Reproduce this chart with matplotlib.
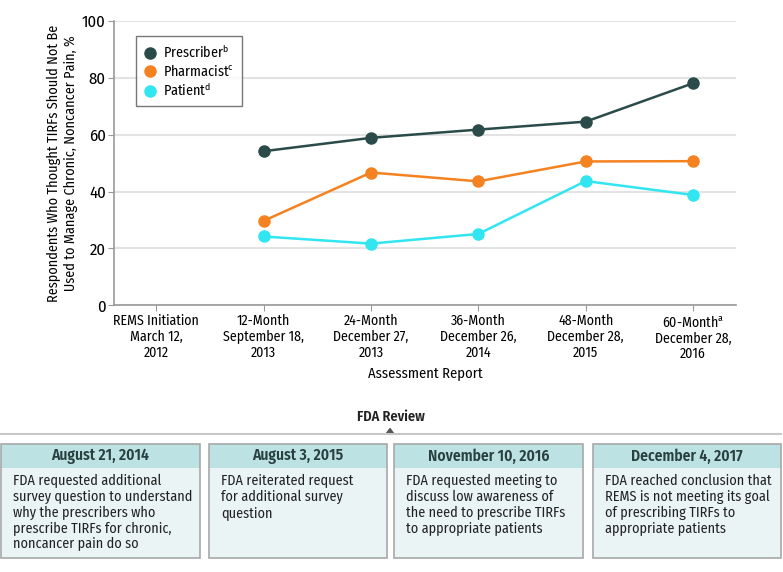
import matplotlib
matplotlib.use("Agg")
import matplotlib.pyplot as plt
from matplotlib.patches import Rectangle, Polygon
from matplotlib import font_manager

names = {f.name for f in font_manager.fontManager.ttflist}
FONT = "Liberation Sans"
for cand in ["Fira Sans Condensed", "PT Sans Narrow", "Asap Condensed", "Archivo Narrow",
             "Roboto Condensed", "Liberation Sans Narrow"]:
    if cand in names:
        FONT = cand
        break
SCALE = 1.0 if FONT != "Liberation Sans" else 0.88
plt.rcParams['font.family'] = [FONT, 'DejaVu Sans']
plt.rcParams['mathtext.fontset'] = 'custom'
plt.rcParams['mathtext.rm'] = FONT
plt.rcParams['mathtext.it'] = FONT

categories = ["REMS Initiation\nMarch 12,\n2012",
              "12-Month\nSeptember 18,\n2013",
              "24-Month\nDecember 27,\n2013",
              "36-Month\nDecember 26,\n2014",
              "48-Month\nDecember 28,\n2015",
              "60-Month$^{\\mathrm{a}}$\nDecember 28,\n2016"]
x_idx = [1, 2, 3, 4, 5]
prescriber = [54.2, 58.9, 61.8, 64.6, 78.1]
pharmacist = [29.7, 46.7, 43.6, 50.6, 50.7]
patient = [24.2, 21.7, 25.1, 43.7, 38.8]
yticks = [0, 20, 40, 60, 80, 100]

box_dates = ["August 21, 2014", "August 3, 2015", "November 10, 2016", "December 4, 2017"]
box_texts = ["FDA requested additional\nsurvey question to understand\nwhy the prescribers who\nprescribe TIRFs for chronic,\nnoncancer pain do so",
             "FDA reiterated request\nfor additional survey\nquestion",
             "FDA requested meeting to\ndiscuss low awareness of\nthe need to prescribe TIRFs\nto appropriate patients",
             "FDA reached conclusion that\nREMS is not meeting its goal\nof prescribing TIRFs to\nappropriate patients"]

c_pres = "#2a4b49"
c_pharm = "#f58220"
c_pat = "#31e6f0"

W, H = 783, 572
fig = plt.figure(figsize=(W / 100, H / 100), dpi=100)
ax = fig.add_axes([114 / W, 1 - 305.3 / H, (736 - 114) / W, (305.3 - 21) / H])

for vals, col, lab in [(prescriber, c_pres, "Prescriber$^{\\mathrm{b}}$"),
                       (pharmacist, c_pharm, "Pharmacist$^{\\mathrm{c}}$"),
                       (patient, c_pat, "Patient$^{\\mathrm{d}}$")]:
    ax.plot(x_idx, vals, color=col, lw=1.8, zorder=3)
    ax.plot(x_idx, vals, 'o', color=col, ms=8, zorder=4, label=lab)

ax.set_xlim(-0.394, 5.4)
ax.set_ylim(0, 100)
ax.set_yticks(yticks)
ax.set_xticks(range(len(categories)))
ax.set_xticklabels(categories, fontsize=10 * SCALE, linespacing=1.15)
ax.tick_params(axis='y', labelsize=12 * SCALE, length=4, color="#999999", pad=2)
ax.tick_params(axis='x', length=4, color="#999999", pad=2)
ax.grid(axis='y', color="#e3e3e3", lw=1.5)
ax.set_axisbelow(True)
for s in ["top", "right"]:
    ax.spines[s].set_visible(False)
for s in ["left", "bottom"]:
    ax.spines[s].set_color("#999999")
    ax.spines[s].set_linewidth(1.2)
ax.set_ylabel("Respondents Who Thought TIRFs Should Not Be\nUsed to Manage Chronic, Noncancer Pain, %",
              fontsize=10.2 * SCALE, linespacing=1.2, labelpad=3)
ax.set_xlabel("Assessment Report", fontsize=10.5 * SCALE, labelpad=3)

leg = ax.legend(loc="upper left", bbox_to_anchor=(0.035, 0.947), fontsize=10.2 * SCALE,
                frameon=True, fancybox=False, edgecolor="#555555", handletextpad=0.45,
                borderpad=0.5, labelspacing=0.15, handlelength=1.0, borderaxespad=0)
leg.get_frame().set_linewidth(1.0)

# Timeline overlay in pixel coordinates
ov = fig.add_axes([0, 0, 1, 1], zorder=-1)
ov.set_xlim(0, W)
ov.set_ylim(H, 0)
ov.axis("off")
ov.plot([0, 781], [434, 434], color="#c8c8c8", lw=1.5)
ov.add_patch(Polygon([[386, 434], [394, 434], [390, 428.5]], closed=True, color="#555555"))
ov.text(391, 417, "FDA Review", ha="center", va="center", fontsize=10.3 * SCALE, fontweight=600, color="#222222")

boxes = [(1, 200), (209, 387), (394, 583), (593, 781)]
top, hdr, bot = 444, 468, 558
for (x0, x1), d, t in zip(boxes, box_dates, box_texts):
    ov.add_patch(Rectangle((x0, top), x1 - x0, bot - top, facecolor="#eaf4f5", edgecolor="none"))
    ov.add_patch(Rectangle((x0, top), x1 - x0, hdr - top, facecolor="#bde2e3", edgecolor="none"))
    ov.add_patch(Rectangle((x0, top), x1 - x0, bot - top, facecolor="none", edgecolor="#a8a8a8", lw=1.2))
    ov.text((x0 + x1) / 2, (top + hdr) / 2 + 0.5, d, ha="center", va="center", fontsize=11.2 * SCALE,
            fontweight=600, color="#2a4040")
    ov.text(x0 + 12, 474, t, ha="left", va="top", fontsize=10.2 * SCALE, linespacing=1.13, color="#222222")

fig.savefig("out.png", dpi=100)
